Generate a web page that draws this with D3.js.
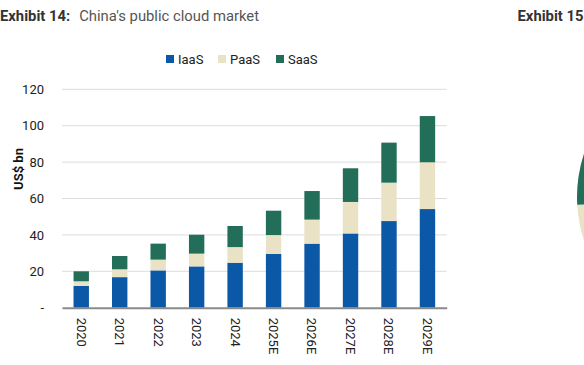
<!DOCTYPE html>
<html><head><meta charset="utf-8">
<script src="https://cdn.jsdelivr.net/npm/d3@7"></script>
<style>
html,body{margin:0;padding:0;background:#fff;}
svg{display:block;font-family:Roboto,"Noto Sans",sans-serif;}
</style></head>
<body><svg id="c" width="584" height="365"></svg>
<script>
const years = ["2020","2021","2022","2023","2024","2025E","2026E","2027E","2028E","2029E"];
const iaas = [12.0,16.8,20.5,22.7,24.7,29.5,35.2,40.8,47.6,54.2];
const paas = [2.5,4.3,5.9,7.0,8.6,10.4,13.2,17.3,21.1,25.7];
const saas = [5.5,7.3,8.8,10.4,11.6,13.4,15.7,18.5,22.0,25.4];
const seriesNames = ["IaaS","PaaS","SaaS"];
const colors = ["#0a58a6","#e9e2c5","#236e59"];
const yTicks = [0,20,40,60,80,100,120];
const neighbourShares = [55,19.1,25.9];
const neighbourColors = ["#0a58a6","#e9e2c5","#236e59"];

const svg = d3.select("#c");
// title
const t = svg.append("text").attr("x",0).attr("y",21).attr("font-size",14.8);
t.append("tspan").attr("font-weight","bold").attr("fill","#333").text("Exhibit 14:");
t.append("tspan").attr("dx",9).attr("fill","#555").text("China's public cloud market");
svg.append("text").attr("x",583.5).attr("y",21).attr("text-anchor","end").attr("font-size",14.8)
  .attr("font-weight","bold").attr("fill","#333").text("Exhibit 15");

const x = d3.scaleBand().domain(years).range([62,446.7]).paddingInner(0.6).paddingOuter(0.3);
const y = d3.scaleLinear().domain([0,120]).range([307.7,89.3]);

// gridlines
svg.append("g").selectAll("line").data(yTicks.filter(d=>d>0)).join("line")
  .attr("x1",62).attr("x2",446.7).attr("y1",d=>y(d)).attr("y2",d=>y(d))
  .attr("stroke","#dcdcdc").attr("stroke-width",1);

// y axis labels
const ya = svg.append("g").attr("transform","translate(44,0)")
  .call(d3.axisLeft(y).tickValues(yTicks).tickSize(0).tickPadding(0).tickFormat(d=>d===0?"-":d));
ya.select(".domain").remove();
ya.selectAll("text").attr("font-size",13).attr("fill","#222").attr("font-family","Roboto,sans-serif");

svg.append("text").attr("transform","translate(23,169) rotate(-90)").attr("text-anchor","middle")
  .attr("font-size",13).attr("font-weight","bold").attr("fill","#111").text("US$ bn");

// stacked bars
const table = years.map((yr,i)=>({year:yr,IaaS:iaas[i],PaaS:paas[i],SaaS:saas[i]}));
const stack = d3.stack().keys(seriesNames)(table);
svg.append("g").selectAll("g").data(stack).join("g").attr("fill",(d,i)=>colors[i])
  .selectAll("rect").data(d=>d).join("rect")
  .attr("x",d=>x(d.data.year)).attr("width",x.bandwidth())
  .attr("y",d=>y(d[1])).attr("height",d=>y(d[0])-y(d[1]));

// x axis
const xa = svg.append("g").attr("transform","translate(0,307.7)")
  .call(d3.axisBottom(x).tickSize(0).tickPadding(0));
xa.select(".domain").attr("stroke","#8a8a8a").attr("stroke-width",2);
xa.selectAll("text").attr("font-size",13).attr("fill","#222").attr("font-family","Roboto,sans-serif")
  .attr("transform","rotate(90)").attr("text-anchor","start").attr("dy","0.35em").attr("x",10).attr("y",0);

// legend
const legX = [166,218,276];
const lg = svg.append("g").selectAll("g").data(seriesNames).join("g")
  .attr("transform",(d,i)=>`translate(${legX[i]},55)`);
lg.append("rect").attr("width",8).attr("height",8).attr("fill",(d,i)=>colors[i]);
lg.append("text").attr("x",12).attr("y",8.5).attr("font-size",13).attr("fill","#222").text(d=>d);

// neighbouring exhibit (cropped pie)
const pie = d3.pie().sort(null)(neighbourShares);
const arc = d3.arc().innerRadius(0).outerRadius(139);
svg.append("g").attr("transform","translate(716,197)").selectAll("path").data(pie).join("path")
  .attr("d",arc).attr("fill",(d,i)=>neighbourColors[i]);
</script></body></html>
